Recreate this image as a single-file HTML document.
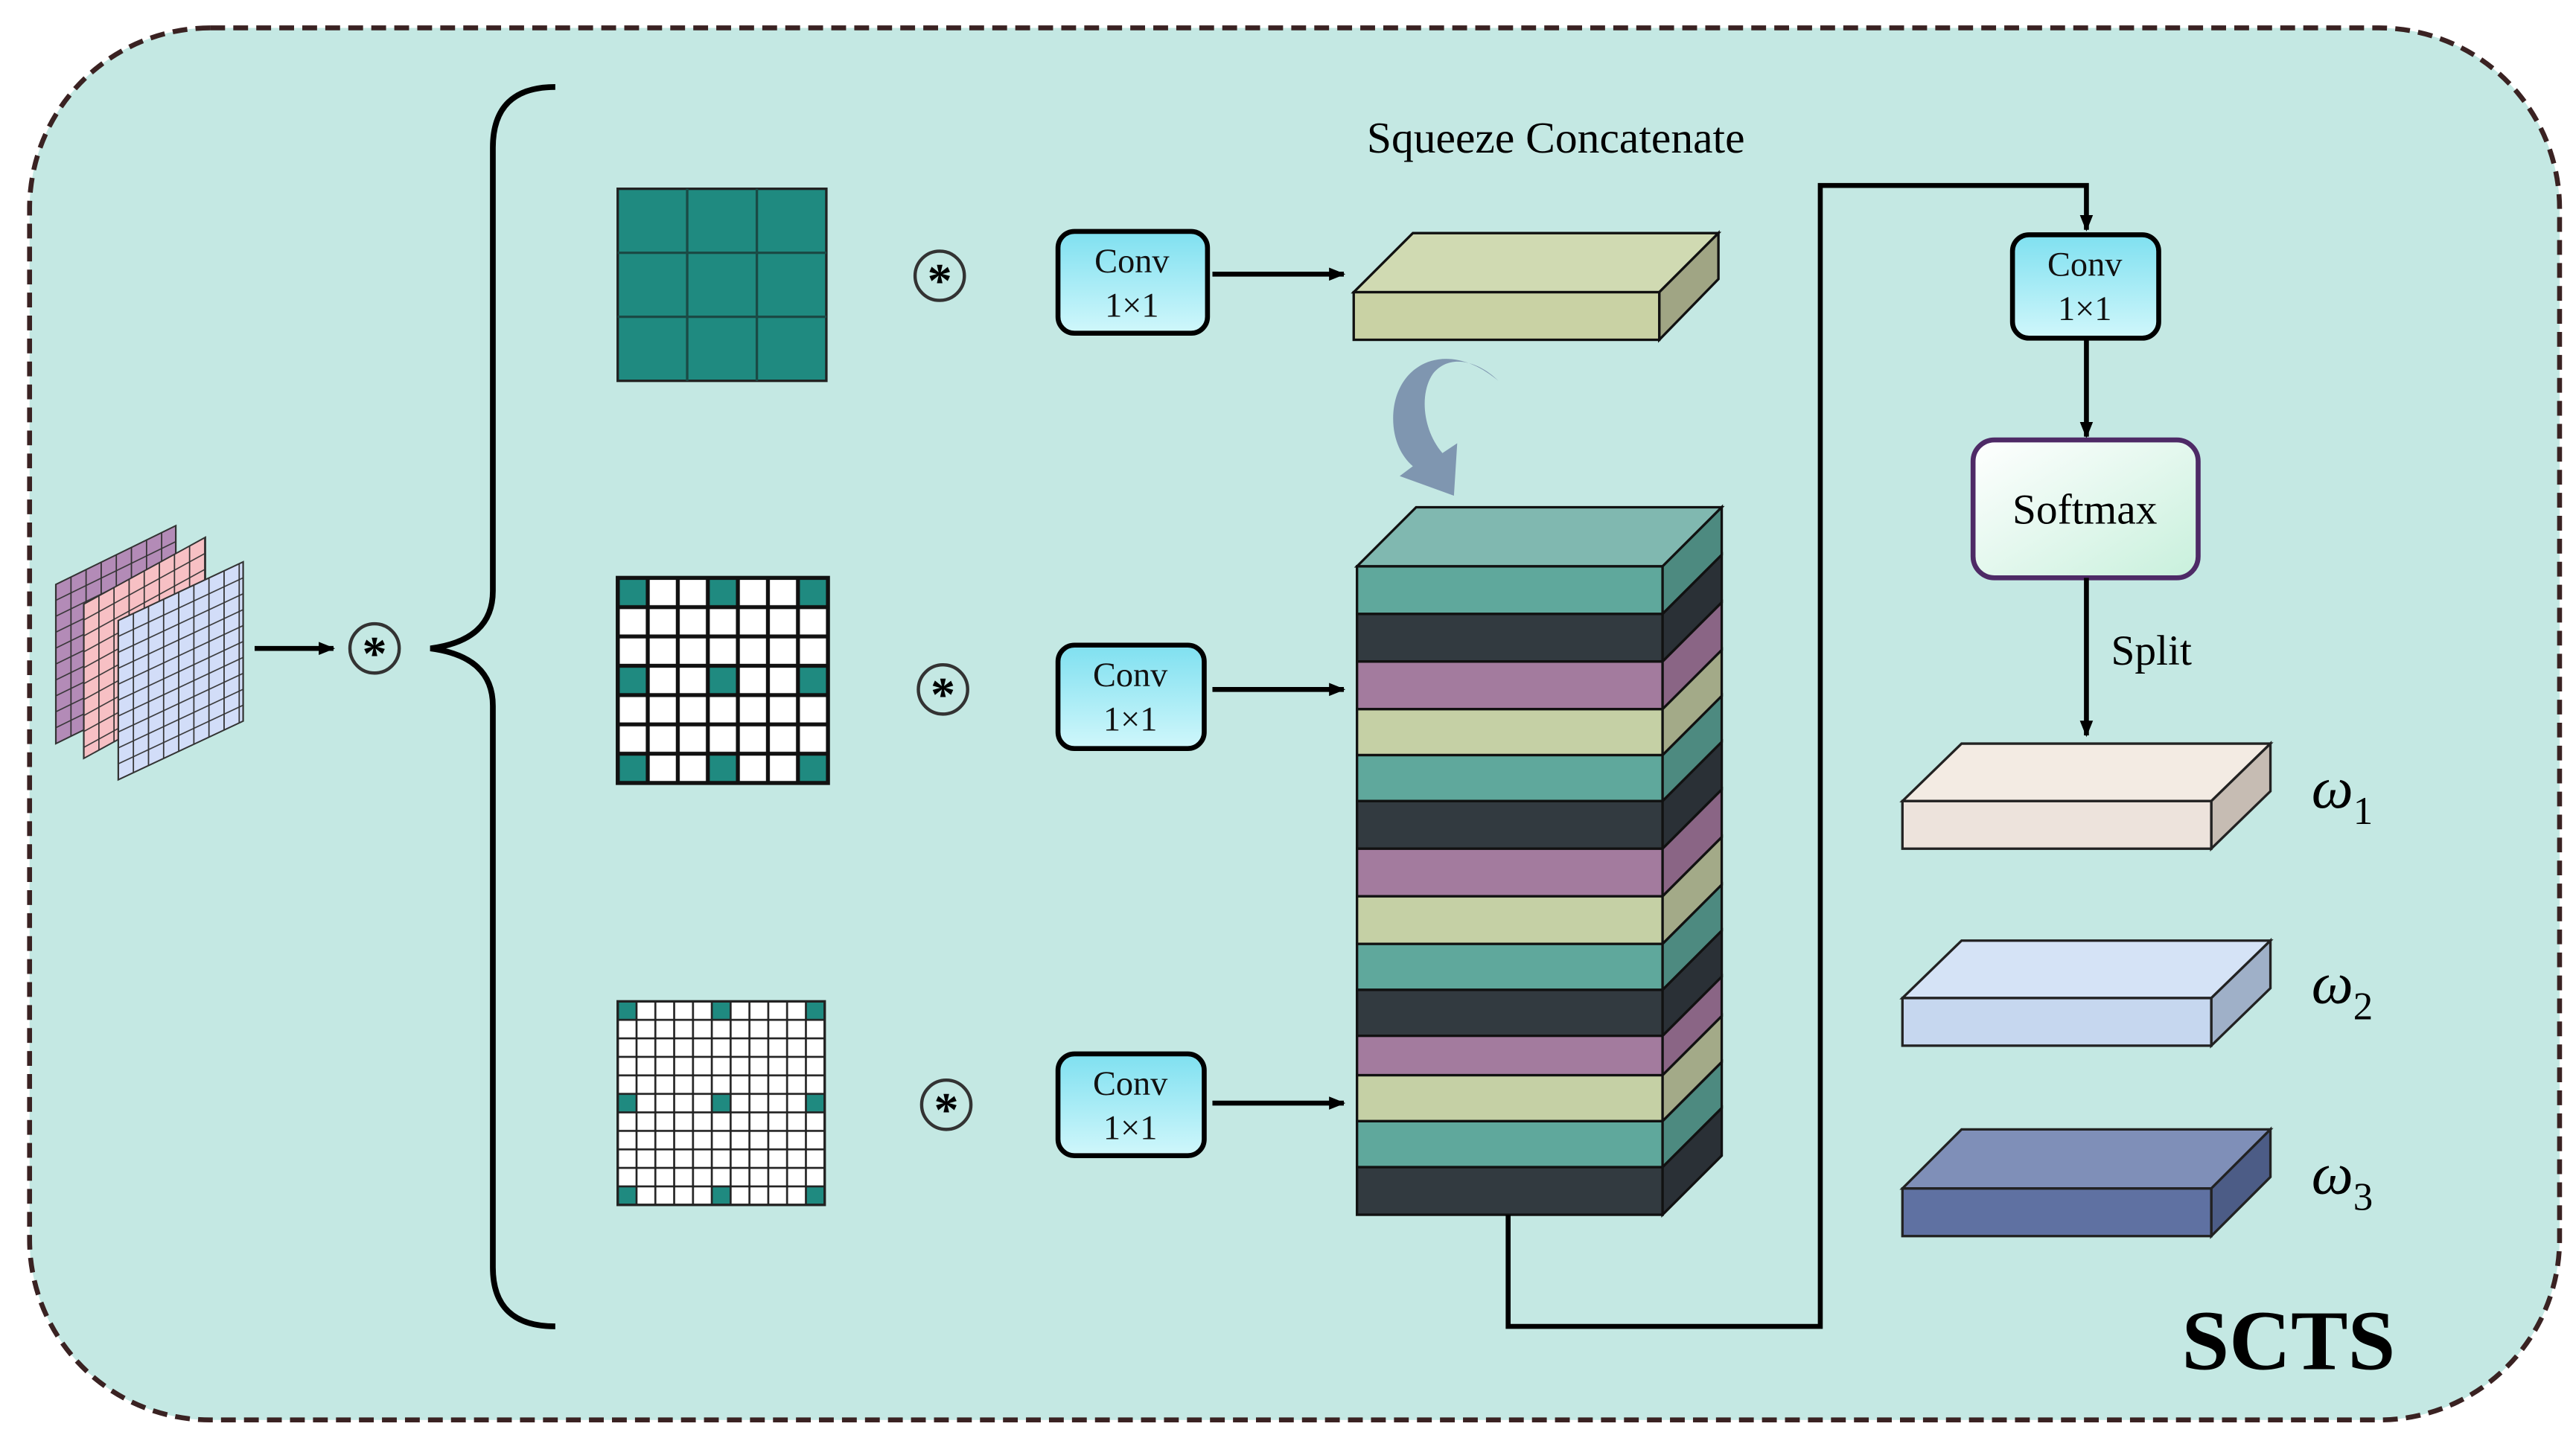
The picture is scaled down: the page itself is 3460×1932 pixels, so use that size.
<!DOCTYPE html>
<html><head><meta charset="utf-8"><style>
html,body{margin:0;padding:0;background:#fff}
svg{display:block}
svg text{font-family:"Liberation Serif",serif}
</style></head><body>
<svg width="3460" height="1932" viewBox="0 0 1568 876" preserveAspectRatio="none" xmlns="http://www.w3.org/2000/svg" font-family="Liberation Serif, serif">
<defs>
<linearGradient id="cv" x1="0" y1="0" x2="0" y2="1"><stop offset="0" stop-color="#7fe0f0"/><stop offset="1" stop-color="#d0f7fb"/></linearGradient>
<linearGradient id="sm" x1="0" y1="0" x2="1" y2="1"><stop offset="0" stop-color="#ffffff"/><stop offset="1" stop-color="#c8f0dc"/></linearGradient>
<pattern id="g7" patternUnits="userSpaceOnUse" x="376" y="352" width="18.286" height="17.857"><rect x="0" y="0" width="18.286" height="17.857" fill="none" stroke="#111" stroke-width="2.4"/></pattern>
<pattern id="g11" patternUnits="userSpaceOnUse" x="376" y="610" width="11.455" height="11.273"><rect x="0" y="0" width="11.455" height="11.273" fill="none" stroke="#222" stroke-width="1.2"/></pattern>
<pattern id="gi" patternUnits="userSpaceOnUse" width="9.2" height="9.7"><rect x="0" y="0" width="9.2" height="9.7" fill="none" stroke="#333" stroke-width="0.8"/></pattern>
<marker id="ah" markerWidth="10" markerHeight="10" refX="9" refY="5" orient="auto" markerUnits="userSpaceOnUse"><path d="M0,1 L10,5 L0,9 Z" fill="#000"/></marker>
</defs>
<rect width="1568" height="876" fill="#fff"/>
<rect x="18" y="17" width="1540" height="848" rx="110" fill="#c4e8e3" stroke="#3a2222" stroke-width="3" stroke-dasharray="9,5"/>

<g transform="matrix(1,-0.49,0,1,34,356)"><rect width="73" height="97" fill="#b38bb7" stroke="#333" stroke-width="1"/><rect width="73" height="97" fill="url(#gi)"/></g>
<g transform="matrix(1,-0.55,0,1,51,368)"><rect width="74" height="94" fill="#f7c0c4" stroke="#333" stroke-width="1"/><rect width="74" height="94" fill="url(#gi)"/></g>
<g transform="matrix(1,-0.47,0,1,72,378)"><rect width="76" height="97" fill="#d2ddf8" stroke="#333" stroke-width="1"/><rect width="76" height="97" fill="url(#gi)"/></g>

<line x1="155" y1="395" x2="203" y2="395" stroke="#000" stroke-width="3" marker-end="url(#ah)"/>
<g><circle cx="228" cy="395" r="15" fill="none" stroke="#333" stroke-width="2"/><text x="228" y="408" font-size="30" font-weight="bold" text-anchor="middle">*</text></g>

<path d="M338,53 Q300,53 300,90 L300,360 Q300,390 262,395 Q300,400 300,430 L300,772 Q300,808 338,808" fill="none" stroke="#000" stroke-width="3.5"/>

<rect x="376" y="115" width="127" height="117" fill="#1f8a80" stroke="#222" stroke-width="1.5"/>
<path d="M418.3,115V232M460.7,115V232M376,154H503M376,193H503" stroke="#1a4a45" stroke-width="1.5"/>
<rect x="376" y="352" width="128" height="125" fill="#fff"/>
<g fill="#1f8a80">
<rect x="376" y="352" width="18.3" height="17.9"/><rect x="430.9" y="352" width="18.3" height="17.9"/><rect x="485.7" y="352" width="18.3" height="17.9"/>
<rect x="376" y="405.6" width="18.3" height="17.9"/><rect x="430.9" y="405.6" width="18.3" height="17.9"/><rect x="485.7" y="405.6" width="18.3" height="17.9"/>
<rect x="376" y="459.1" width="18.3" height="17.9"/><rect x="430.9" y="459.1" width="18.3" height="17.9"/><rect x="485.7" y="459.1" width="18.3" height="17.9"/>
</g>
<rect x="376" y="352" width="128" height="125" fill="url(#g7)" stroke="#111" stroke-width="2.4"/>
<rect x="376" y="610" width="126" height="124" fill="#fff"/>
<g fill="#1f8a80">
<rect x="376" y="610" width="11.5" height="11.3"/><rect x="433.3" y="610" width="11.5" height="11.3"/><rect x="490.5" y="610" width="11.5" height="11.3"/>
<rect x="376" y="666.4" width="11.5" height="11.3"/><rect x="433.3" y="666.4" width="11.5" height="11.3"/><rect x="490.5" y="666.4" width="11.5" height="11.3"/>
<rect x="376" y="722.7" width="11.5" height="11.3"/><rect x="433.3" y="722.7" width="11.5" height="11.3"/><rect x="490.5" y="722.7" width="11.5" height="11.3"/>
</g>
<rect x="376" y="610" width="126" height="124" fill="url(#g11)" stroke="#222" stroke-width="1.5"/>

<g fill="none" stroke="#333" stroke-width="2"><circle cx="572" cy="168" r="15"/><circle cx="574" cy="420" r="15"/><circle cx="576" cy="673" r="15"/></g>
<g font-size="30" font-weight="bold" text-anchor="middle"><text x="572" y="181">*</text><text x="574" y="433">*</text><text x="576" y="686">*</text></g>

<g stroke="#000" stroke-width="3" fill="url(#cv)">
<rect x="644" y="141" width="91" height="62" rx="10"/>
<rect x="644" y="393" width="89" height="63" rx="10"/>
<rect x="644" y="642" width="89" height="62" rx="10"/>
<rect x="1225" y="143" width="89" height="63" rx="10"/>
</g>
<g font-size="21" text-anchor="middle" fill="#111">
<text x="689" y="166">Conv</text><text x="689" y="193">1×1</text>
<text x="688" y="418">Conv</text><text x="688" y="445">1×1</text>
<text x="688" y="667">Conv</text><text x="688" y="694">1×1</text>
<text x="1269" y="168">Conv</text><text x="1269" y="195">1×1</text>
</g>
<g stroke="#000" stroke-width="3" marker-end="url(#ah)">
<line x1="738" y1="167" x2="818" y2="167"/>
<line x1="738" y1="420" x2="818" y2="420"/>
<line x1="738" y1="672" x2="818" y2="672"/>
</g>

<text x="947" y="93" font-size="27" text-anchor="middle">Squeeze Concatenate</text>

<g stroke="#111" stroke-width="1.5">
<path d="M824,178 L860,142 L1046,142 L1010,178 Z" fill="#d0dab2"/>
<path d="M1010,178 L1046,142 L1046,170 L1010,207 Z" fill="#a0a584"/>
<rect x="824" y="178" width="186" height="29" fill="#c9d2a4"/>
</g>

<path d="M912,232 C880,205 848,222 848,255 C848,268 853,278 860,284 L852,290 L885,302 L887,270 L878,276 C866,262 864,240 872,228 C882,215 900,220 912,232 Z" fill="#7f96b0"/>

<g stroke="#111" stroke-width="1.5">
<path d="M826,345 L862,309 L1048,309 L1012,345 Z" fill="#80b8b0"/>
<rect x="826" y="345" width="186" height="29" fill="#5fa89c"/><path d="M1012,345 L1048,309 L1048,338 L1012,374 Z" fill="#4d8a80"/>
<rect x="826" y="374" width="186" height="29" fill="#323a40"/><path d="M1012,374 L1048,338 L1048,367 L1012,403 Z" fill="#2a3036"/>
<rect x="826" y="403" width="186" height="29" fill="#a37b9e"/><path d="M1012,403 L1048,367 L1048,396 L1012,432 Z" fill="#8a6585"/>
<rect x="826" y="432" width="186" height="28" fill="#c5d0a5"/><path d="M1012,432 L1048,396 L1048,424 L1012,460 Z" fill="#a3aa88"/>
<rect x="826" y="460" width="186" height="28" fill="#5fa89c"/><path d="M1012,460 L1048,424 L1048,452 L1012,488 Z" fill="#4d8a80"/>
<rect x="826" y="488" width="186" height="29" fill="#323a40"/><path d="M1012,488 L1048,452 L1048,481 L1012,517 Z" fill="#2a3036"/>
<rect x="826" y="517" width="186" height="29" fill="#a37b9e"/><path d="M1012,517 L1048,481 L1048,510 L1012,546 Z" fill="#8a6585"/>
<rect x="826" y="546" width="186" height="29" fill="#c5d0a5"/><path d="M1012,546 L1048,510 L1048,539 L1012,575 Z" fill="#a3aa88"/>
<rect x="826" y="575" width="186" height="28" fill="#5fa89c"/><path d="M1012,575 L1048,539 L1048,567 L1012,603 Z" fill="#4d8a80"/>
<rect x="826" y="603" width="186" height="28" fill="#323a40"/><path d="M1012,603 L1048,567 L1048,595 L1012,631 Z" fill="#2a3036"/>
<rect x="826" y="631" width="186" height="24" fill="#a37b9e"/><path d="M1012,631 L1048,595 L1048,619 L1012,655 Z" fill="#8a6585"/>
<rect x="826" y="655" width="186" height="28" fill="#c5d0a5"/><path d="M1012,655 L1048,619 L1048,647 L1012,683 Z" fill="#a3aa88"/>
<rect x="826" y="683" width="186" height="28" fill="#5fa89c"/><path d="M1012,683 L1048,647 L1048,675 L1012,711 Z" fill="#4d8a80"/>
<rect x="826" y="711" width="186" height="29" fill="#323a40"/><path d="M1012,711 L1048,675 L1048,704 L1012,740 Z" fill="#2a3036"/>
</g>

<path d="M918,740 L918,808 L1108,808 L1108,113 L1270,113 L1270,140" fill="none" stroke="#000" stroke-width="3" marker-end="url(#ah)"/>
<line x1="1270" y1="206" x2="1270" y2="266" stroke="#000" stroke-width="3" marker-end="url(#ah)"/>
<rect x="1201" y="268" width="137" height="84" rx="13" fill="url(#sm)" stroke="#4e2a66" stroke-width="3"/>
<text x="1269" y="319" font-size="26" text-anchor="middle">Softmax</text>
<line x1="1270" y1="352" x2="1270" y2="448" stroke="#000" stroke-width="3" marker-end="url(#ah)"/>
<text x="1285" y="405" font-size="26">Split</text>

<g stroke="#222" stroke-width="1.5">
<path d="M1158,488 L1194,453 L1382,453 L1346,488 Z" fill="#f3ebe3"/>
<path d="M1346,488 L1382,453 L1382,482 L1346,517 Z" fill="#c6bcb3"/>
<rect x="1158" y="488" width="188" height="29" fill="#ede3dc"/>
<path d="M1158,608 L1194,573 L1382,573 L1346,608 Z" fill="#d5e3f6"/>
<path d="M1346,608 L1382,573 L1382,602 L1346,637 Z" fill="#9fb0c8"/>
<rect x="1158" y="608" width="188" height="29" fill="#c6d7ef"/>
<path d="M1158,724 L1194,688 L1382,688 L1346,724 Z" fill="#7f8fb8"/>
<path d="M1346,724 L1382,688 L1382,717 L1346,753 Z" fill="#4c5c86"/>
<rect x="1158" y="724" width="188" height="29" fill="#5f71a2"/>
</g>
<g font-size="36" font-style="italic">
<text x="1407" y="492">ω<tspan font-size="24" font-style="normal" dy="10">1</tspan></text>
<text x="1407" y="611">ω<tspan font-size="24" font-style="normal" dy="10">2</tspan></text>
<text x="1407" y="727">ω<tspan font-size="24" font-style="normal" dy="10">3</tspan></text>
</g>
<text x="1393" y="834" font-size="52" font-weight="bold" text-anchor="middle">SCTS</text>
</svg>
</body></html>
